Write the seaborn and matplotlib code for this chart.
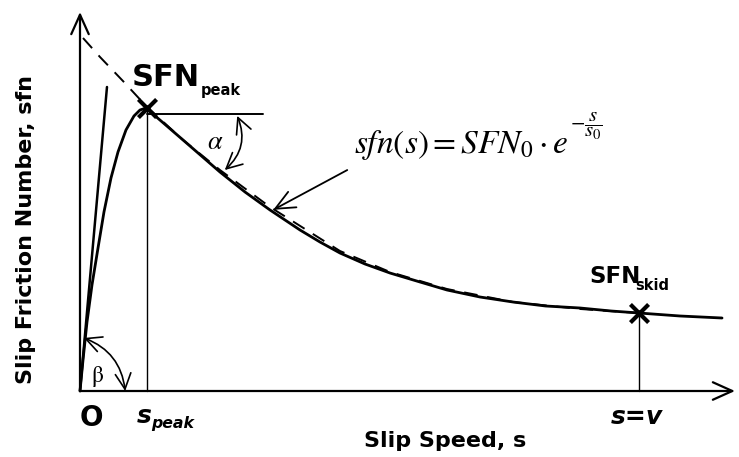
import numpy as np
import pandas as pd
import matplotlib
matplotlib.use("Agg")
import matplotlib.pyplot as plt
from matplotlib.patches import FancyArrowPatch
import seaborn as sns

# ---------------- data ----------------
# measured curve: rising branch up to the peak, then decaying branch
s_curve = [0.0, 0.46, 1.07, 1.83, 2.75, 3.66, 4.73, 5.80, 7.02, 8.24, 9.16, 10.08,
           15.73, 21.37, 25.19, 29.01, 33.59, 36.64, 39.69, 43.51, 47.33, 51.91,
           56.03, 61.07, 66.11, 71.07, 76.34, 81.07, 85.34, 91.60, 98.02]
sfn_curve = [0.0, 8.18, 18.21, 27.97, 37.73, 47.23, 56.20, 63.06, 68.87, 72.56, 74.14, 74.67,
             66.23, 57.78, 52.51, 47.76, 42.48, 39.31, 36.41, 33.51, 31.13, 28.76,
             26.65, 24.80, 23.48, 22.43, 21.90, 21.11, 20.58, 19.79, 19.26]

# exponential fit (dashed)
s_fit = [0.46, 3.05, 6.56, 10.23, 15.73, 21.37, 29.01, 39.69, 47.33, 56.03, 66.11, 76.34, 85.34]
sfn_fit = [93.14, 88.13, 81.79, 74.93, 66.23, 58.31, 48.55, 36.94, 31.40, 26.91, 23.48, 21.64, 20.58]

# initial slope (tangent at origin)
s_tan = [0.0, 4.12]
sfn_tan = [0.0, 80.21]

# characteristic points
point_names = ["peak", "skid"]
s_points = [10.2, 85.3]
sfn_points = [74.7, 20.6]

# ---------------- figure ----------------
sns.set_theme(style="white")
plt.rcParams["font.family"] = ["DejaVu Sans"]
plt.rcParams["mathtext.fontset"] = "stix"

fig = plt.figure(figsize=(7.39, 4.57), dpi=100)
ax = fig.add_axes([0, 0, 1, 1])
ax.set_xlim(-80 / 6.55, 659 / 6.55)
ax.set_ylim(-66 / 3.79, 391 / 3.79)
ax.axis("off")

K = "black"

# axes with arrows
ax.annotate("", xy=(100.0, 0), xytext=(0, 0),
            arrowprops=dict(arrowstyle="->,head_length=1.0,head_width=0.45", color=K, lw=1.6,
                            shrinkA=0, shrinkB=0, mutation_scale=14))
ax.annotate("", xy=(0, 100.0), xytext=(0, 0),
            arrowprops=dict(arrowstyle="->,head_length=1.0,head_width=0.45", color=K, lw=1.6,
                            shrinkA=0, shrinkB=0, mutation_scale=14))

df_curve = pd.DataFrame({"s": s_curve, "sfn": sfn_curve})
df_fit = pd.DataFrame({"s": s_fit, "sfn": sfn_fit})
df_tan = pd.DataFrame({"s": s_tan, "sfn": sfn_tan})
df_pts = pd.DataFrame({"name": point_names, "s": s_points, "sfn": sfn_points})

sns.lineplot(data=df_curve, x="s", y="sfn", ax=ax, color=K, lw=2.0, sort=False)
sns.lineplot(data=df_fit, x="s", y="sfn", ax=ax, color=K, lw=1.4, sort=False,
             dashes=False, linestyle=(0, (7, 5)))
sns.lineplot(data=df_tan, x="s", y="sfn", ax=ax, color=K, lw=1.8, sort=False)

# vertical drop lines
for sp, yp in zip(s_points, sfn_points):
    ax.plot([sp, sp], [0, yp], color=K, lw=1.0)

# horizontal reference at the peak
ax.plot([s_points[0], 27.9], [sfn_points[0] - 1.5, sfn_points[0] - 1.5], color=K, lw=1.4)

sns.scatterplot(data=df_pts, x="s", y="sfn", ax=ax, marker="x", s=170, color=K,
                linewidth=3.0, zorder=5, legend=False)

# angle arcs
arc_alpha = FancyArrowPatch((24.0, 72.6), (22.1, 58.3), arrowstyle="<->,head_length=0.8,head_width=0.4",
                            connectionstyle="arc3,rad=-0.35", color=K, lw=1.2, mutation_scale=14,
                            shrinkA=0, shrinkB=0)
ax.add_patch(arc_alpha)
arc_beta = FancyArrowPatch((0.6, 14.0), (6.9, 0.0), arrowstyle="<->,head_length=0.8,head_width=0.4",
                           connectionstyle="arc3,rad=-0.3", color=K, lw=1.2, mutation_scale=14,
                           shrinkA=0, shrinkB=0)
ax.add_patch(arc_beta)

# pointer arrow to the curve
ax.annotate("", xy=(29.5, 47.8), xytext=(40.8, 58.3),
            arrowprops=dict(arrowstyle="->,head_length=1.0,head_width=0.45", color=K, lw=1.3,
                            shrinkA=0, shrinkB=0, mutation_scale=14))

# texts
ax.text(7.9, 80.5, "SFN", fontsize=22, fontweight="bold", ha="left", va="baseline", color=K)
ax.text(18.4, 78.2, "peak", fontsize=10.5, fontweight="bold", ha="left", va="baseline", color=K)
ax.text(77.7, 28.5, "SFN", fontsize=16.5, fontweight="bold", ha="left", va="baseline", color=K)
ax.text(84.8, 26.7, "skid", fontsize=10.5, fontweight="bold", ha="left", va="baseline", color=K)

formula = ax.text(41.8, 62.8, r"$sfn\left(s\right) = SFN_0 \cdot e$", fontsize=24, ha="left",
                  va="baseline", color=K)
ax.annotate(r"$-\dfrac{s}{s_0}$", xy=(1.0, 1.0), xycoords=formula, xytext=(1.5, 1.5),
            textcoords="offset points", fontsize=15, ha="left", va="center", color=K)
ax.text(20.6, 65.7, r"$\alpha$", fontsize=19, ha="center", va="center", color=K)
ax.text(2.6, 3.7, r"$\mathrm{\beta}$", fontsize=17, ha="center", va="center", color=K)

ax.text(1.8, -7.0, "O", fontsize=20, fontweight="bold", ha="center", va="center", color=K)
ax.text(8.6, -8.5, "s", fontsize=18, fontweight="bold", style="italic", ha="left",
        va="baseline", color=K)
ax.text(10.8, -9.8, "peak", fontsize=11.3, fontweight="bold", style="italic", ha="left",
        va="baseline", color=K)
ax.text(85.0, -8.8, "s=v", fontsize=18, fontweight="bold", style="italic", ha="center",
        va="baseline", color=K)

ax.text(55.7, -13.2, "Slip Speed, s", fontsize=16, fontweight="bold", ha="center",
        va="center", color=K)
ax.text(-8.2, 42.5, "Slip Friction Number, sfn", fontsize=16, fontweight="bold", ha="center",
        va="center", rotation=90, color=K)

fig.savefig("out.png", dpi=100, facecolor="white")
